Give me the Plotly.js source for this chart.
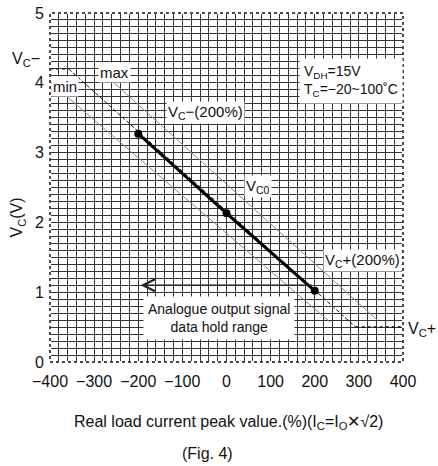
<!DOCTYPE html>
<html>
<head>
<meta charset="utf-8">
<script src="https://cdn.plot.ly/plotly-3.0.1.min.js"></script>
<style>
html,body{margin:0;padding:0;background:#fff;}
#chart{width:438px;height:466px;}
</style>
</head>
<body>
<div id="chart"></div>
<script>
// ---- data ----
const xTickVals = [-400, -300, -200, -100, 0, 100, 200, 300, 400];
const xTickText = ['\u2212400', '\u2212300', '\u2212200', '\u2212100', '0', '100', '200', '300', '400'];
const yTickVals = [0, 1, 2, 3, 4, 5];
const yTickText = ['0', '1', '2', '3', '4', '5'];

// Vc0 characteristic (thick line, markers at -200, 0, 200 %)
const vc0X = [-200, 0, 200];
const vc0Y = [3.27, 2.13, 1.02];

// Saturation levels and knees of extended characteristic
const vcMinusLevel = 4.2;
const vcPlusLevel = 0.5;
const kneeLeftX = -358;
const kneeRightX = 293;
const axisMinX = -400;
const axisMaxX = 400;

// Tolerance lines
const maxX = [-290, 342];
const maxY = [4.2, 0.6];
const minX = [-400, 235];
const minY = [4.01, 0.57];

// Data-hold range arrow
const holdY = 1.1;
const holdFromX = 197;
const holdToX = -195;

const FONT = 'Liberation Sans, Arial, sans-serif';
const INK = '#111';

const traces = [
  { // max line
    x: maxX, y: maxY, mode: 'lines', hoverinfo: 'skip',
    line: { color: '#8a8a8a', width: 1 }
  },
  { // min line
    x: minX, y: minY, mode: 'lines', hoverinfo: 'skip',
    line: { color: '#8a8a8a', width: 1 }
  },
  { // extended diagonal (dashed)
    x: [kneeLeftX, kneeRightX], y: [vcMinusLevel, vcPlusLevel], mode: 'lines', hoverinfo: 'skip',
    line: { color: '#111', width: 1, dash: '4px,2px' }
  },
  { // Vc- level (dotted)
    x: [axisMinX, kneeLeftX], y: [vcMinusLevel, vcMinusLevel], mode: 'lines', hoverinfo: 'skip',
    line: { color: '#111', width: 1.5, dash: 'dot' }
  },
  { // Vc+ level (dotted)
    x: [kneeRightX, axisMaxX], y: [vcPlusLevel, vcPlusLevel], mode: 'lines', hoverinfo: 'skip',
    line: { color: '#111', width: 1.5, dash: 'dot' }, cliponaxis: false
  },
  { // Vc0 thick
    x: vc0X, y: vc0Y, mode: 'lines+markers', hoverinfo: 'skip',
    line: { color: '#000', width: 3 },
    marker: { color: '#000', size: 8 }
  }
];

function lab(text, x, y, opts) {
  return Object.assign({
    text: text, x: x, y: y, xref: 'x', yref: 'y', showarrow: false,
    bgcolor: '#fff', borderpad: 1,
    font: { family: FONT, size: 15, color: INK }
  }, opts || {});
}

const annotations = [
  lab('max', -253, 4.15),
  lab('min', -366, 3.94),
  lab('V<sub>C</sub>\u2212(200%)', -48, 3.58),
  lab('V<sub>C0</sub>', 72, 2.52),
  lab('V<sub>C</sub>+(200%)', 308, 1.46),
  lab('V<sub>DH</sub>=15V<br>T<sub>C</sub>=\u221220~100\u02DAC', 400, 4.02,
      { xanchor: 'right', align: 'left', font: { family: FONT, size: 14, color: INK }, borderpad: 4 }),
  lab('Analogue output signal<br>data hold range', -18, 0.63,
      { font: { family: FONT, size: 14, color: INK }, borderpad: 4 }),
  { // arrow
    x: holdToX, y: holdY, ax: holdFromX, ay: holdY, xref: 'x', yref: 'y', axref: 'x', ayref: 'y',
    text: '', showarrow: true, arrowhead: 5, arrowsize: 1.8, arrowwidth: 1.3, arrowcolor: '#222'
  },
  { // Vc- outside label
    text: 'V<sub>C</sub>\u2212', xref: 'paper', yref: 'y', x: 0, y: vcMinusLevel, xanchor: 'right',
    xshift: -8, yshift: 9, showarrow: false, font: { family: FONT, size: 16, color: INK }
  },
  { // Vc+ outside label
    text: 'V<sub>C</sub>+', xref: 'paper', yref: 'y', x: 1, y: vcPlusLevel, xanchor: 'left',
    xshift: 3, yshift: -2, showarrow: false, font: { family: FONT, size: 16, color: INK }
  },
  { // y axis title
    text: 'V<sub>C</sub>(V)', xref: 'paper', yref: 'paper', x: -0.125, y: 0.415, textangle: -90,
    showarrow: false, font: { family: FONT, size: 16, color: INK }
  },
  { // x axis title
    text: 'Real load current peak value.(%)(I<sub>C</sub>=I<sub>O</sub>\u2715\u221A2)',
    xref: 'paper', yref: 'paper', x: 0.5, y: 0, yshift: -72, xshift: 2,
    showarrow: false, font: { family: FONT, size: 16, color: INK }
  },
  { // figure caption
    text: '(Fig. 4)', xref: 'paper', yref: 'paper', x: 0.5, y: 0, yshift: -102, xshift: -19,
    showarrow: false, font: { family: FONT, size: 16, color: INK }
  }
];

const shapes = [
  { type: 'rect', xref: 'paper', yref: 'paper', x0: 0, x1: 1, y0: 0, y1: 1,
    line: { color: '#fff', width: 2 }, layer: 'above' },
  { type: 'rect', xref: 'paper', yref: 'paper', x0: 0, x1: 1, y0: 0, y1: 1,
    line: { color: '#111', width: 1.5, dash: 'dot' }, layer: 'above' }
];

const gridCol = '#333';
const layout = {
  width: 438, height: 466,
  margin: { l: 50, r: 35, t: 13, b: 104 },
  paper_bgcolor: '#fff', plot_bgcolor: '#fff',
  showlegend: false,
  font: { family: FONT, size: 16, color: INK },
  xaxis: {
    range: [axisMinX, axisMaxX], tickmode: 'array', tickvals: xTickVals, ticktext: xTickText,
    showgrid: true, gridcolor: gridCol, gridwidth: 1, zeroline: false, showline: false, ticks: '',
    ticklabelstandoff: 8,
    tickfont: { family: FONT, size: 16, color: INK },
    minor: { tick0: 0, dtick: 20, showgrid: true, gridcolor: gridCol, gridwidth: 1 },
    fixedrange: true
  },
  yaxis: {
    range: [0, 5], tickmode: 'array', tickvals: yTickVals, ticktext: yTickText,
    showgrid: true, gridcolor: gridCol, gridwidth: 1, zeroline: false, showline: false, ticks: '',
    ticklabelstandoff: 5,
    tickfont: { family: FONT, size: 16, color: INK },
    minor: { tick0: 0, dtick: 0.1, showgrid: true, gridcolor: gridCol, gridwidth: 1 },
    fixedrange: true
  },
  annotations: annotations,
  shapes: shapes
};

Plotly.newPlot('chart', traces, layout, { displayModeBar: false, staticPlot: true });
</script>
</body>
</html>
